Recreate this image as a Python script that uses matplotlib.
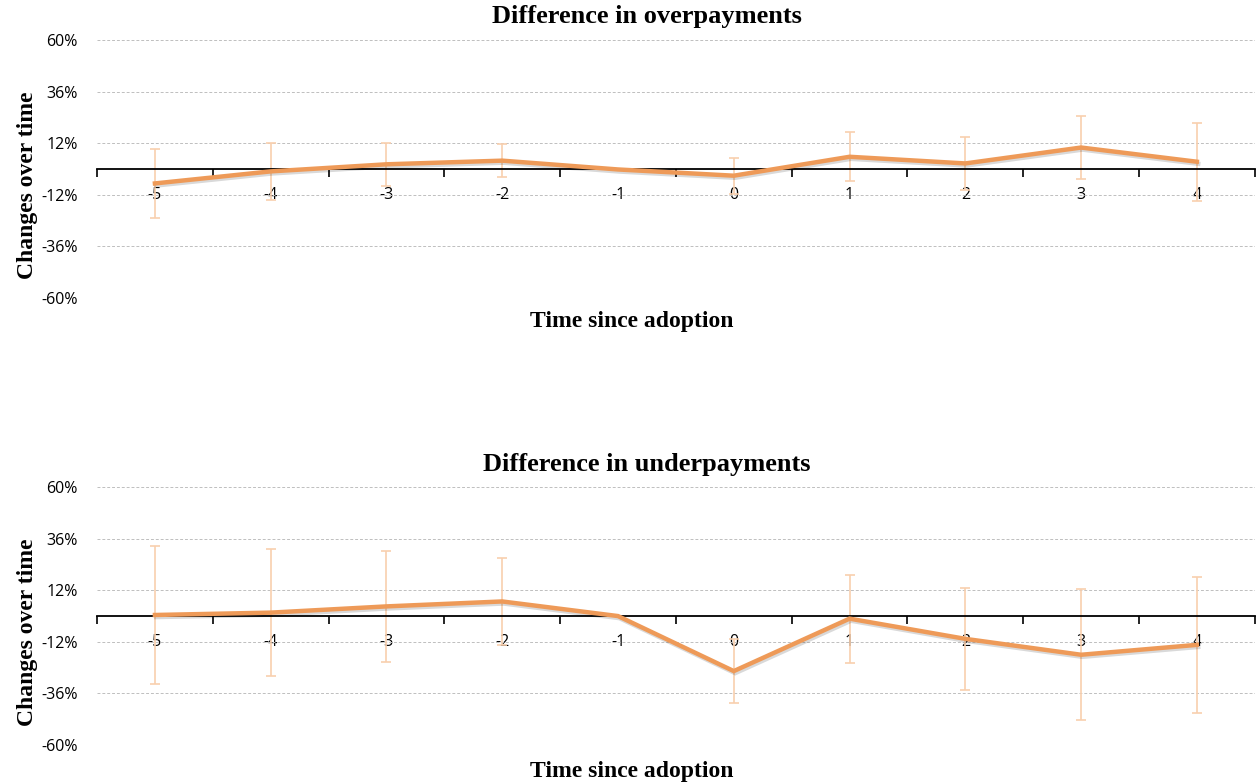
import numpy as np
import matplotlib
matplotlib.use("Agg")
import matplotlib.pyplot as plt
import matplotlib.patheffects as pe
from matplotlib.ticker import FuncFormatter

# periods relative to adoption
periods = ["-5", "-4", "-3", "-2", "-1", "0", "1", "2", "3", "4"]

# overpayments: estimate and error half-width (in %)
over_est = [-6.7, -1.1, 2.2, 3.9, -0.2, -3.1, 5.7, 2.6, 10.0, 3.4]
over_err = [16.0, 13.3, 10.0, 7.8, 0.0, 8.4, 11.3, 12.2, 14.7, 18.1]

# underpayments
under_est = [0.5, 1.6, 4.5, 6.8, 0.0, -25.6, -1.2, -10.6, -18.0, -13.4]
under_err = [32.0, 29.7, 26.0, 20.3, 0.0, 14.7, 20.5, 23.8, 30.5, 31.6]

yticks = [-60, -36, -12, 12, 36, 60]

line_color = "#EE9A58"
err_color = "#F8CFAE"
title_font = {"family": "Liberation Serif", "weight": "bold", "size": 19}
label_font = {"family": "Liberation Serif", "weight": "bold", "size": 17}

fig = plt.figure(figsize=(12.57, 7.84), dpi=100)
ax_top = fig.add_axes([0.0772, 0.6199, 0.921, 0.329])
ax_bot = fig.add_axes([0.0772, 0.0497, 0.921, 0.329])


def draw_panel(ax, est, err, title, title_y, xlabel_y, ylabel_y):
    x = np.arange(len(periods))
    ax.errorbar(x, est, yerr=err, fmt="none", ecolor=err_color, elinewidth=1.2,
                capsize=3.5, capthick=1.2, zorder=2)
    ax.plot(x, est, color=line_color, lw=3.2, solid_joinstyle="miter", zorder=3,
            path_effects=[pe.SimpleLineShadow(offset=(1, -1.5), alpha=0.15, shadow_color="black"),
                          pe.Normal()])

    ax.set_xlim(-0.5, len(periods) - 0.5)
    ax.set_ylim(-60, 60)
    ax.set_yticks(yticks)
    ax.yaxis.set_major_formatter(FuncFormatter(lambda v, p: f"{int(v)}%"))
    ax.grid(True, axis="y", color="#BFBFBF", linestyle=(0, (3, 2)), lw=0.7)
    ax.set_axisbelow(True)

    for s in ["top", "right", "left"]:
        ax.spines[s].set_visible(False)
    ax.spines["bottom"].set_position(("data", 0))
    ax.spines["bottom"].set_color("black")
    ax.spines["bottom"].set_linewidth(1.3)

    ax.set_xticks(x)
    ax.set_xticklabels(periods)
    ax.set_xticks(np.arange(-0.5, len(periods)), minor=True)
    ax.tick_params(axis="x", which="major", length=0, pad=13, labelsize=11.5)
    ax.tick_params(axis="x", which="minor", length=6, width=1.2, direction="out", color="black")
    ax.tick_params(axis="y", length=0, pad=14, labelsize=11.5)
    for lab in ax.get_xticklabels() + ax.get_yticklabels():
        lab.set_fontfamily("Open Sans")

    fig.text(28 / 1257, ylabel_y, "Changes over time", rotation=90, ha="center", va="center",
             fontdict=label_font)
    fig.text(647 / 1257, title_y, title, ha="center", va="center", fontdict=title_font)
    fig.text(632 / 1257, xlabel_y, "Time since adoption", ha="center", va="center",
             fontdict=label_font)


draw_panel(ax_top, over_est, over_err, "Difference in overpayments",
           1 - 16 / 784, 1 - 322 / 784, 1 - 185 / 784)
draw_panel(ax_bot, under_est, under_err, "Difference in underpayments",
           1 - 464 / 784, 1 - 771 / 784, 1 - 632 / 784)

fig.savefig("out.png", dpi=100)
